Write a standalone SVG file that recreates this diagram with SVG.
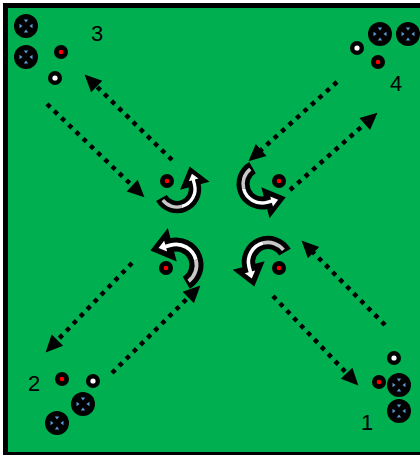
<svg xmlns="http://www.w3.org/2000/svg" xmlns:xlink="http://www.w3.org/1999/xlink" width="420" height="455" viewBox="0 0 420 455">
<style>
.lbl{font-family:"Liberation Sans",Arial,sans-serif;font-size:22px;fill:#000;text-anchor:middle}
.dot{fill:none;stroke:#000;stroke-width:4.5;stroke-dasharray:4.5 5.5;marker-end:url(#ah)}
.band{fill:none;stroke:#000;stroke-width:13}
.hg{fill:none;stroke:#c8c8c8;stroke-width:3.5}
.hw{fill:none;stroke:#fff;stroke-width:3.5}
.head{fill:#000;stroke:#000;stroke-width:3;stroke-linejoin:miter}
</style>
<defs>
<marker id="ah" markerUnits="userSpaceOnUse" markerWidth="16" markerHeight="16" refX="0" refY="7.5" orient="auto" overflow="visible">
<path d="M-1,-0.5 L16,7.5 L-1,15.5 z" fill="#000"/>
</marker>
<g id="big">
<circle r="12" fill="#000"/>
<g fill="#5b9bd5">
<polygon points="-2.2,-6.5 2.2,-6.5 0,-3.5"/>
<polygon points="-2.2,6.5 2.2,6.5 0,3.5"/>
<polygon points="-6.5,-2.2 -6.5,2.2 -3.5,0"/>
<polygon points="6.5,-2.2 6.5,2.2 3.5,0"/>
</g>
</g>
<g id="red"><circle r="7" fill="#000"/><circle r="2.3" fill="#ff0000"/></g>
<g id="wht"><circle r="7" fill="#000"/><circle r="2.6" fill="#fff"/></g>
<g id="rot">
<path class="band" d="M19,0 A19,19 0 0 0 -18.35,-4.92"/>
<polygon class="head" points="-30.9,-8.3 -22.75,11.5 -5.8,-1.55"/>
<path class="hg" d="M18.82,-2.64 A19,19 0 0 0 4.92,-18.35"/>
<path class="hw" d="M4.92,-18.35 A19,19 0 0 0 -18.35,-4.92 L-19.9,0.9"/>
<polygon fill="#fff" points="-25,-1.8 -14.9,0.9 -21.7,6.1"/>
</g>
</defs>
<rect x="0" y="0" width="420" height="455" fill="#fff"/>
<rect x="3" y="3" width="420" height="455" fill="#000"/>
<rect x="8" y="8" width="412" height="444" fill="#00b050"/>

<g id="connectors">
<line class="dot" x1="172" y1="160" x2="96" y2="85.8"/>
<line class="dot" x1="47" y1="104" x2="132.9" y2="186.3"/>
<line class="dot" x1="290" y1="190" x2="365.5" y2="123.3"/>
<line class="dot" x1="337" y1="82" x2="260.4" y2="150.6"/>
<line class="dot" x1="132" y1="263" x2="56.7" y2="340.9"/>
<line class="dot" x1="112" y1="373" x2="189" y2="296.8"/>
<line class="dot" x1="273" y1="296" x2="347.3" y2="373.9"/>
<line class="dot" x1="385" y1="325" x2="312.8" y2="252"/>
</g>

<g id="center-tl"><use xlink:href="#rot" transform="translate(177,189) rotate(150) scale(0.95)"/><use xlink:href="#red" x="167" y="181"/></g>
<g id="center-tr"><use xlink:href="#rot" transform="translate(262,184) rotate(240)"/><use xlink:href="#red" x="279" y="181"/></g>
<g id="center-bl"><use xlink:href="#rot" transform="translate(176,265) rotate(60) scale(1.08)"/><use xlink:href="#red" x="166" y="268"/></g>
<g id="center-br"><use xlink:href="#rot" transform="translate(268,262) rotate(330) scale(1.03)"/><use xlink:href="#red" x="279" y="268"/></g>

<g id="group-3">
<use xlink:href="#big" x="26" y="26"/>
<use xlink:href="#big" x="26" y="57"/>
<use xlink:href="#red" x="61" y="52"/>
<use xlink:href="#wht" x="55" y="78"/>
<text class="lbl" x="97" y="41">3</text>
</g>
<g id="group-4">
<use xlink:href="#big" x="380" y="34"/>
<use xlink:href="#big" x="408" y="34"/>
<use xlink:href="#wht" x="357" y="48"/>
<use xlink:href="#red" x="378" y="62"/>
<text class="lbl" x="396" y="91">4</text>
</g>
<g id="group-2">
<use xlink:href="#red" x="62" y="379"/>
<use xlink:href="#wht" x="93" y="381"/>
<use xlink:href="#big" x="83" y="404"/>
<use xlink:href="#big" x="57" y="423"/>
<text class="lbl" x="34" y="391">2</text>
</g>
<g id="group-1">
<use xlink:href="#wht" x="394" y="358"/>
<use xlink:href="#red" x="379" y="382"/>
<use xlink:href="#big" x="399" y="385"/>
<use xlink:href="#big" x="399" y="411"/>
<text class="lbl" x="367" y="430">1</text>
</g>
</svg>
